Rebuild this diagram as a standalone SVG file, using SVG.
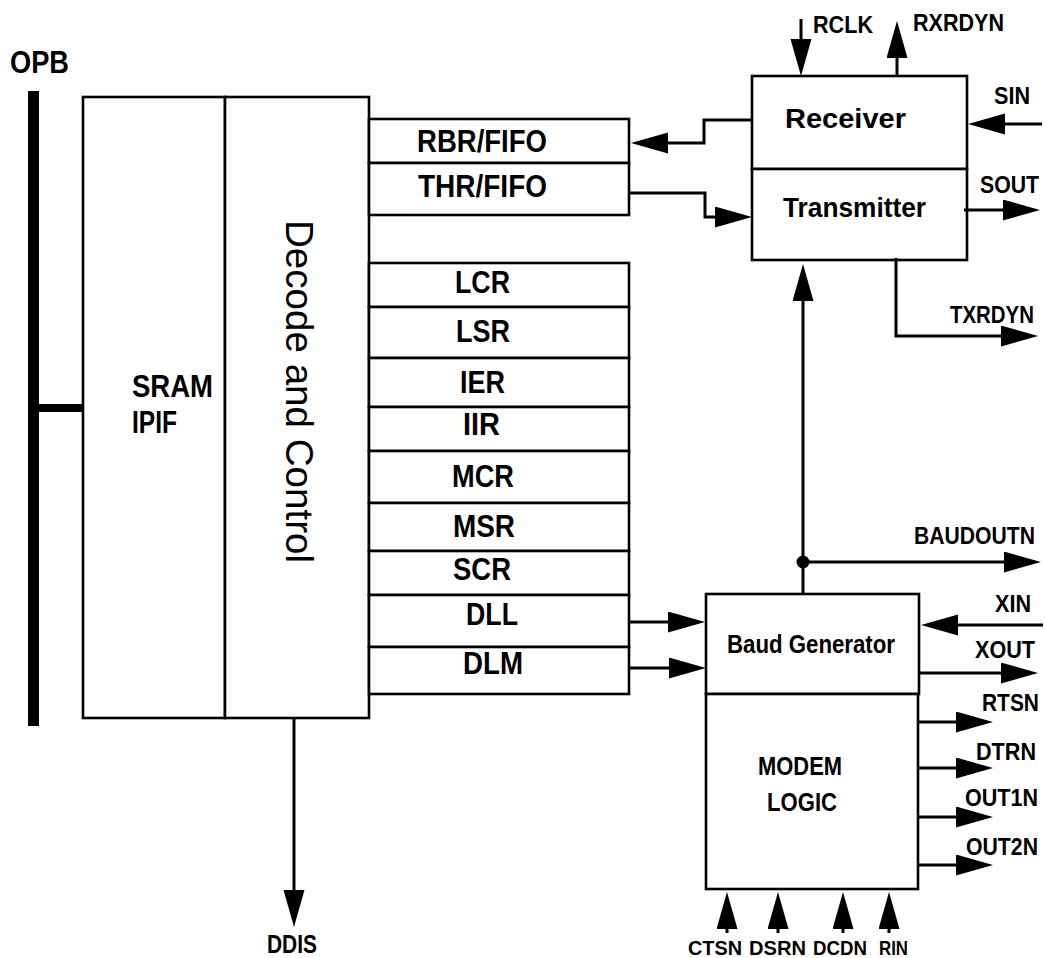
<svg xmlns="http://www.w3.org/2000/svg" width="1046" height="958" viewBox="0 0 1046 958">
<style>
.box{fill:#fff;stroke:#000;stroke-width:2.6}
.ln{fill:none;stroke:#000;stroke-width:3}
.b{font-family:"Liberation Sans",Arial,sans-serif;font-weight:bold;fill:#000}
.r{font-family:"Liberation Sans",Arial,sans-serif;fill:#000}
.f30{font-size:31px}.f26{font-size:27px}.f24{font-size:25px}.f23{font-size:23px}.f21{font-size:21px}
</style>
<defs>
<marker id="ah" markerUnits="userSpaceOnUse" markerWidth="38" markerHeight="22" refX="7" refY="10.5" orient="auto">
<path d="M0,0 L37,10.5 L0,21 z" fill="#000"/>
</marker>
</defs>
<rect width="1046" height="958" fill="#fff"/>
<g id="opb">
<rect x="28" y="91" width="11" height="635" fill="#000"/>
<text class="b f30" x="10" y="73" textLength="59" lengthAdjust="spacingAndGlyphs">OPB</text>
</g>
<g id="sram-ipif">
<rect class="box" x="83" y="97" width="142" height="621"/>
<text class="b f30" x="132" y="397" textLength="81" lengthAdjust="spacingAndGlyphs">SRAM</text>
<text class="b f30" x="132" y="433" textLength="45" lengthAdjust="spacingAndGlyphs">IPIF</text>
</g>
<g id="decode">
<rect class="box" x="225" y="97" width="144" height="621"/>
<text class="r" font-size="38" transform="translate(286,220) rotate(90)" textLength="343" lengthAdjust="spacingAndGlyphs">Decode and Control</text>
</g>
<g id="rbr"><rect class="box" x="369" y="119" width="260" height="44"/><text class="b f30" x="417" y="152" textLength="130" lengthAdjust="spacingAndGlyphs">RBR/FIFO</text></g>
<g id="thr"><rect class="box" x="369" y="163" width="260" height="52"/><text class="b f30" x="418" y="197" textLength="129" lengthAdjust="spacingAndGlyphs">THR/FIFO</text></g>
<g id="lcr"><rect class="box" x="369" y="263" width="260" height="44"/><text class="b f30" x="455" y="293" textLength="55" lengthAdjust="spacingAndGlyphs">LCR</text></g>
<g id="lsr"><rect class="box" x="369" y="307" width="260" height="51"/><text class="b f30" x="456" y="342" textLength="54" lengthAdjust="spacingAndGlyphs">LSR</text></g>
<g id="ier"><rect class="box" x="369" y="358" width="260" height="49"/><text class="b f30" x="460" y="393" textLength="45" lengthAdjust="spacingAndGlyphs">IER</text></g>
<g id="iir"><rect class="box" x="369" y="407" width="260" height="44"/><text class="b f30" x="463" y="435" textLength="37" lengthAdjust="spacingAndGlyphs">IIR</text></g>
<g id="mcr"><rect class="box" x="369" y="451" width="260" height="52"/><text class="b f30" x="452" y="487" textLength="62" lengthAdjust="spacingAndGlyphs">MCR</text></g>
<g id="msr"><rect class="box" x="369" y="503" width="260" height="48"/><text class="b f30" x="453" y="537" textLength="62" lengthAdjust="spacingAndGlyphs">MSR</text></g>
<g id="scr"><rect class="box" x="369" y="551" width="260" height="44"/><text class="b f30" x="453" y="580" textLength="58" lengthAdjust="spacingAndGlyphs">SCR</text></g>
<g id="dll"><rect class="box" x="369" y="595" width="260" height="52"/><text class="b f30" x="466" y="625" textLength="52" lengthAdjust="spacingAndGlyphs">DLL</text></g>
<g id="dlm"><rect class="box" x="369" y="647" width="260" height="47"/><text class="b f30" x="463" y="674" textLength="60" lengthAdjust="spacingAndGlyphs">DLM</text></g>
<g id="receiver"><rect class="box" x="752" y="76" width="215" height="93"/><text class="b f26" x="785" y="128" textLength="121" lengthAdjust="spacingAndGlyphs">Receiver</text></g>
<g id="transmitter"><rect class="box" x="752" y="169" width="215" height="91"/><text class="b f26" x="783" y="217" textLength="143" lengthAdjust="spacingAndGlyphs">Transmitter</text></g>
<g id="baud"><rect class="box" x="706" y="594" width="213" height="100"/><text class="b f24" x="727" y="653" textLength="168" lengthAdjust="spacingAndGlyphs">Baud Generator</text></g>
<g id="modem"><rect class="box" x="706" y="694" width="212" height="195"/>
<text class="b f24" x="758" y="775" textLength="84" lengthAdjust="spacingAndGlyphs">MODEM</text>
<text class="b f24" x="767" y="811" textLength="70" lengthAdjust="spacingAndGlyphs">LOGIC</text></g>
<g id="connectors">
<line x1="39" y1="408" x2="83" y2="408" stroke="#000" stroke-width="8"/>
<path class="ln" d="M752,120 H704 V143 H661" marker-end="url(#ah)"/>
<path class="ln" d="M629,193 H705 V217 H722" marker-end="url(#ah)"/>
<path class="ln" d="M629,622 H675" marker-end="url(#ah)"/>
<path class="ln" d="M629,668 H676" marker-end="url(#ah)"/>
<path class="ln" d="M294,718 V897" marker-end="url(#ah)"/>
<path class="ln" d="M801,19 V46" marker-end="url(#ah)"/>
<path class="ln" d="M897,76 V51" marker-end="url(#ah)"/>
<path class="ln" d="M1042,124 H998" marker-end="url(#ah)"/>
<path class="ln" d="M964,210 H1010" marker-end="url(#ah)"/>
<path class="ln" d="M896,258 V336 H1008" marker-end="url(#ah)"/>
<path class="ln" d="M803,594 V294" marker-end="url(#ah)"/>
<circle cx="803" cy="562" r="6.5" fill="#000"/>
<path class="ln" d="M803,562 H1011" marker-end="url(#ah)"/>
<path class="ln" d="M1043,625 H951" marker-end="url(#ah)"/>
<path class="ln" d="M918,673 H1008" marker-end="url(#ah)"/>
<path class="ln" d="M918,722 H963" marker-end="url(#ah)"/>
<path class="ln" d="M918,768 H963" marker-end="url(#ah)"/>
<path class="ln" d="M918,817 H963" marker-end="url(#ah)"/>
<path class="ln" d="M918,865 H963" marker-end="url(#ah)"/>
<path class="ln" d="M727,933 V922" marker-end="url(#ah)"/>
<path class="ln" d="M778,933 V922" marker-end="url(#ah)"/>
<path class="ln" d="M843,933 V922" marker-end="url(#ah)"/>
<path class="ln" d="M889,933 V922" marker-end="url(#ah)"/>
</g>
<g id="labels">
<text class="b f23" x="813" y="33" textLength="60" lengthAdjust="spacingAndGlyphs">RCLK</text>
<text class="b f23" x="913" y="31" textLength="91" lengthAdjust="spacingAndGlyphs">RXRDYN</text>
<text class="b f23" x="994" y="104" textLength="36" lengthAdjust="spacingAndGlyphs">SIN</text>
<text class="b f23" x="980" y="193" textLength="59" lengthAdjust="spacingAndGlyphs">SOUT</text>
<text class="b f23" x="950" y="323" textLength="84" lengthAdjust="spacingAndGlyphs">TXRDYN</text>
<text class="b f23" x="914" y="544" textLength="121" lengthAdjust="spacingAndGlyphs">BAUDOUTN</text>
<text class="b f23" x="995" y="612" textLength="36" lengthAdjust="spacingAndGlyphs">XIN</text>
<text class="b f23" x="975" y="658" textLength="60" lengthAdjust="spacingAndGlyphs">XOUT</text>
<text class="b f23" x="982" y="711" textLength="57" lengthAdjust="spacingAndGlyphs">RTSN</text>
<text class="b f23" x="976" y="760" textLength="60" lengthAdjust="spacingAndGlyphs">DTRN</text>
<text class="b f23" x="965" y="806" textLength="73" lengthAdjust="spacingAndGlyphs">OUT1N</text>
<text class="b f23" x="966" y="855" textLength="72" lengthAdjust="spacingAndGlyphs">OUT2N</text>
<text class="b f24" x="267" y="953" textLength="50" lengthAdjust="spacingAndGlyphs">DDIS</text>
<text class="b f21" x="688" y="955" textLength="54" lengthAdjust="spacingAndGlyphs">CTSN</text>
<text class="b f21" x="749" y="955" textLength="57" lengthAdjust="spacingAndGlyphs">DSRN</text>
<text class="b f21" x="813" y="955" textLength="54" lengthAdjust="spacingAndGlyphs">DCDN</text>
<text class="b f21" x="879" y="955" textLength="29" lengthAdjust="spacingAndGlyphs">RIN</text>
</g>
</svg>
